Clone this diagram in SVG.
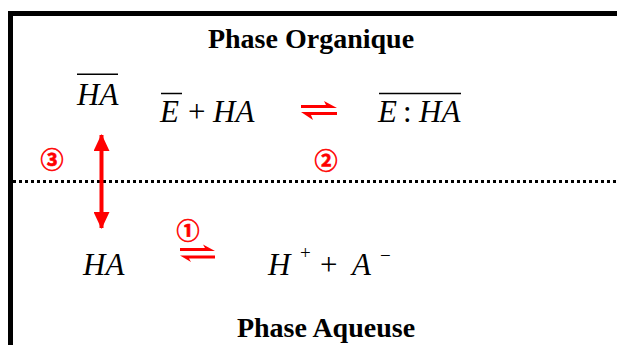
<svg xmlns="http://www.w3.org/2000/svg" width="617" height="345" viewBox="0 0 617 345">
<style>
.title{font-family:"Liberation Serif",serif;font-weight:bold;font-size:28px;fill:#000;text-anchor:middle}
.m{font-family:"Liberation Serif",serif;font-style:italic;font-size:31px;fill:#000}
.r{font-family:"Liberation Serif",serif;font-size:31px;fill:#000}
.sup{font-family:"Liberation Serif",serif;font-size:19px;fill:#000}
.num{font-family:"Noto Sans CJK JP","Noto Sans CJK SC",sans-serif;font-weight:bold;font-size:23px;fill:#f00;stroke:#f00;stroke-width:0.6;text-anchor:middle}
.ov{stroke:#000;stroke-width:1.5}
.eq{fill:#f00}
</style>
<defs>
<marker id="ah" viewBox="0 0 17 16" refX="16" refY="8" markerWidth="17" markerHeight="16" markerUnits="userSpaceOnUse" orient="auto-start-reverse">
<path d="M0,0 L17,8 L0,16 Z" fill="#f00"/>
</marker>
</defs>
<g id="frame">
<polyline points="10.5,345 10.5,13.5 617,13.5" fill="none" stroke="#000" stroke-width="5"/>
</g>
<g id="interface">
<line x1="13" y1="181.5" x2="617" y2="181.5" stroke="#000" stroke-width="3" stroke-dasharray="3,3"/>
</g>
<g id="title-org"><text class="title" x="311" y="48">Phase Organique</text></g>
<g id="title-aq"><text class="title" x="326" y="337">Phase Aqueuse</text></g>
<g id="ha-org">
<line class="ov" x1="77" y1="74.3" x2="118" y2="74.3"/>
<text class="m" x="77" y="105">HA</text>
</g>
<g id="reactants">
<line class="ov" x1="161" y1="93.5" x2="182" y2="93.5"/>
<text class="m" x="160" y="122">E</text>
<text class="r" x="188" y="122">+</text>
<text class="m" x="213" y="122">HA</text>
</g>
<g id="complex">
<line class="ov" x1="379" y1="93.5" x2="461" y2="93.5"/>
<text class="m" x="378" y="122">E</text>
<text class="r" x="403" y="122">:</text>
<text class="m" x="419" y="122">HA</text>
</g>
<g id="ha-aq"><text class="m" x="83" y="275">HA</text></g>
<g id="ions">
<text class="m" x="268" y="275">H</text>
<text class="sup" x="300" y="259">+</text>
<text class="r" x="320" y="275">+</text>
<text class="m" x="352" y="275">A</text>
<text class="sup" x="380" y="262">−</text>
</g>
<g id="connectors">
<g id="eq2">
<path class="eq" d="M301,105 H326 L324,101 L337,108 H301 Z"/>
<path class="eq" d="M337,112 H301 L313,120 L311,115 H337 Z"/>
</g>
<g id="eq1">
<path class="eq" d="M180,248 H205 L203,244.5 L215,251 H180 Z"/>
<path class="eq" d="M215,255.5 H180 L191,262 L189,258.5 H215 Z"/>
</g>
<line id="transfer" x1="101.5" y1="135" x2="101.5" y2="228" stroke="#f00" stroke-width="4" marker-start="url(#ah)" marker-end="url(#ah)"/>
</g>
<g id="labels">
<text class="num" x="52" y="168">③</text>
<text class="num" x="326" y="169">②</text>
<text class="num" x="188" y="239">①</text>
</g>
</svg>
